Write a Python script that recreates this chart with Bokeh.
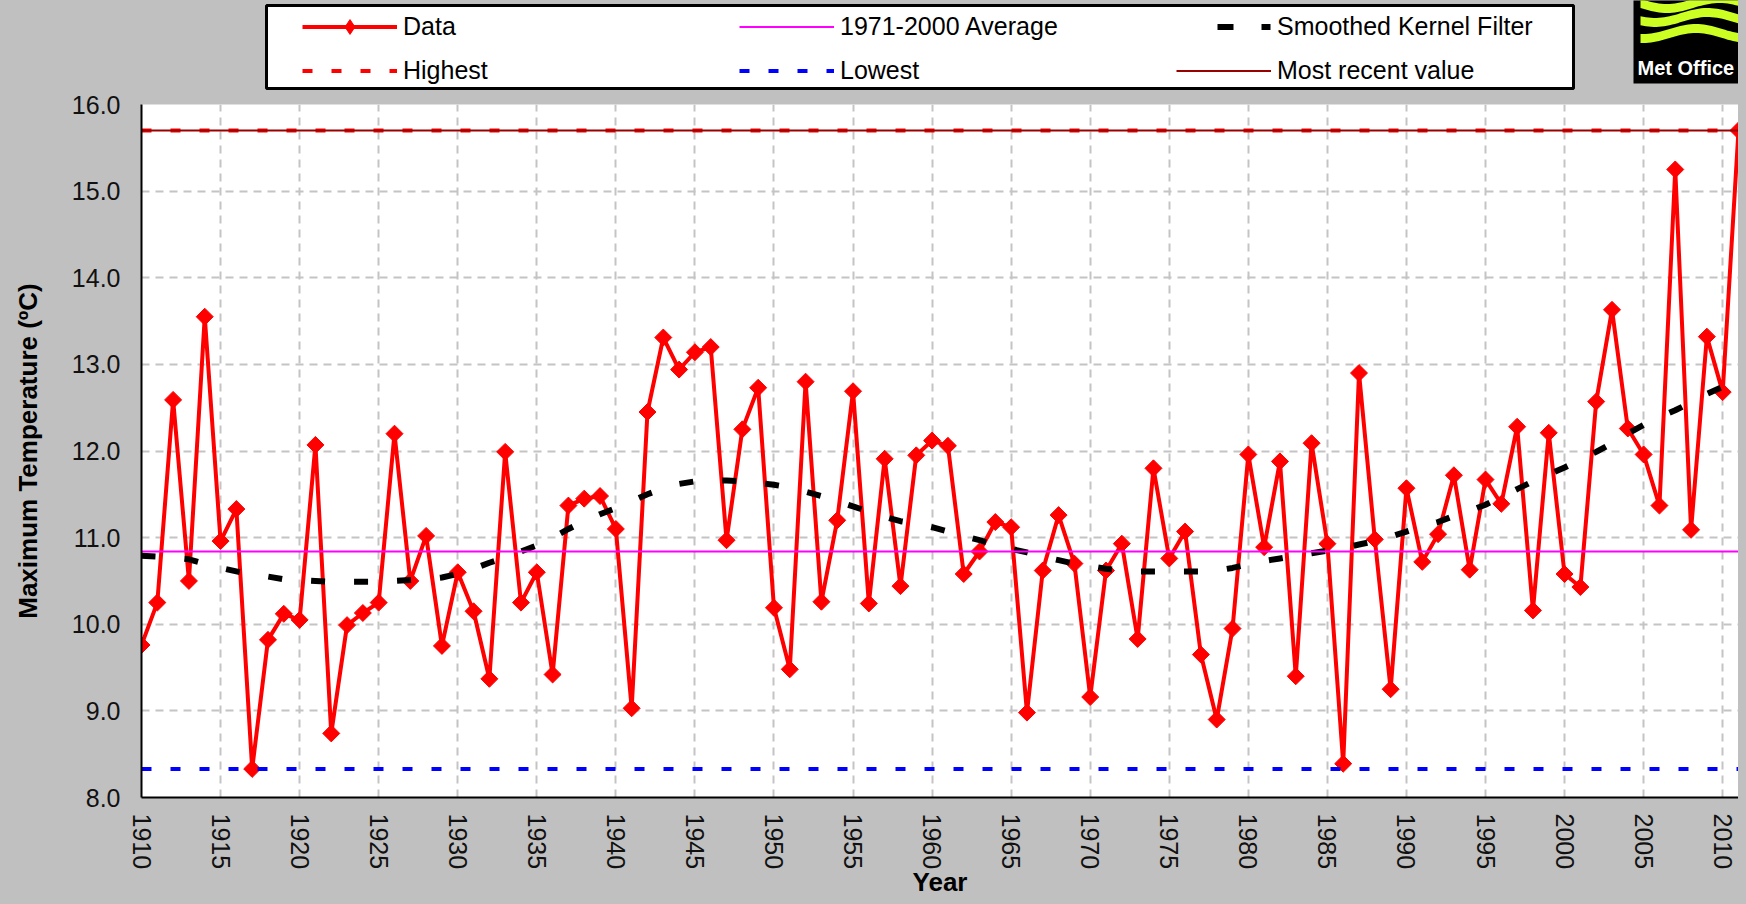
import math
import numpy as np
from bokeh.plotting import figure
from bokeh.layouts import column
from bokeh.models import (ColumnDataSource, Legend, LegendItem, FixedTicker, PrintfTickFormatter,
                          Range1d, GlobalInlineStyleSheet)
from bokeh.embed import file_html
from bokeh.resources import INLINE
from bokeh.core.properties import value

# ---------------- data ----------------
years = list(range(1910, 2012))

tmax = [
    9.76, 10.25, 12.59, 10.50, 13.55, 10.96, 11.33, 8.33, 9.82, 10.12,
    10.05, 12.07, 8.74, 9.99, 10.13, 10.25, 12.20, 10.50, 11.02, 9.75,
    10.60, 10.15, 9.37, 11.99, 10.25, 10.60, 9.42, 11.37, 11.45, 11.48,
    11.10, 9.03, 12.45, 13.31, 12.94, 13.14, 13.20, 10.97, 12.25, 12.73,
    10.19, 9.48, 12.80, 10.26, 11.20, 12.69, 10.24, 11.91, 10.44, 11.95,
    12.12, 12.06, 10.58, 10.84, 11.18, 11.12, 8.98, 10.62, 11.26, 10.70,
    9.16, 10.62, 10.93, 9.83, 11.80, 10.76, 11.07, 9.65, 8.90, 9.95,
    11.96, 10.89, 11.88, 9.40, 12.09, 10.93, 8.39, 12.90, 10.98, 9.25,
    11.57, 10.72, 11.04, 11.72, 10.63, 11.67, 11.39, 12.28, 10.16, 12.21,
    10.58, 10.43, 12.57, 13.63, 12.26, 11.96, 11.37, 15.25, 11.09, 13.32,
    12.68, 15.70,
]

smoothed = [
    10.79, 10.78, 10.77, 10.75, 10.70, 10.65, 10.61, 10.57, 10.55, 10.52,
    10.51, 10.50, 10.49, 10.49, 10.49, 10.49, 10.50, 10.51, 10.52, 10.54,
    10.58, 10.64, 10.71, 10.77, 10.84, 10.91, 11.00, 11.10, 11.19, 11.27,
    11.34, 11.42, 11.50, 11.57, 11.62, 11.65, 11.66, 11.66, 11.65, 11.63,
    11.61, 11.58, 11.53, 11.48, 11.42, 11.36, 11.30, 11.24, 11.19, 11.16,
    11.12, 11.07, 11.02, 10.97, 10.92, 10.87, 10.83, 10.78, 10.74, 10.70,
    10.67, 10.64, 10.62, 10.61, 10.61, 10.61, 10.61, 10.61, 10.62, 10.65,
    10.69, 10.73, 10.76, 10.79, 10.82, 10.85, 10.88, 10.92, 10.96, 11.01,
    11.07, 11.13, 11.18, 11.25, 11.31, 11.38, 11.47, 11.56, 11.65, 11.73,
    11.81, 11.90, 11.99, 12.09, 12.20, 12.30, 12.39, 12.47, 12.56, 12.66,
    12.74, 12.80,
]

avg_1971_2000 = 10.84
highest = max(tmax)
lowest = min(tmax)
most_recent = tmax[-1]

x_ticks = [1910, 1915, 1920, 1925, 1930, 1935, 1940, 1945, 1950, 1955, 1960,
           1965, 1970, 1975, 1980, 1985, 1990, 1995, 2000, 2005, 2010]
y_ticks = [8.0, 9.0, 10.0, 11.0, 12.0, 13.0, 14.0, 15.0, 16.0]

legend_labels = ["Data", "1971-2000 Average", "Smoothed Kernel Filter",
                 "Highest", "Lowest", "Most recent value"]

# ---------------- styling ----------------
FONT = "Liberation Sans"
GRAY = "#c0c0c0"
W = 1738
LEFT = 141
TOP_H = 90
MAIN_H = 810

STY = dict(
    data=dict(line_color="red", line_width=4),
    pts=dict(marker="square", angle=math.pi / 4, size=12, fill_color="red", line_color="red"),
    smooth=dict(line_color="black", line_width=6, line_dash="14 29"),
    avg=dict(line_color="#ff00ff", line_width=2),
    high=dict(line_color="red", line_width=4, line_dash="10 19"),
    low=dict(line_color="blue", line_width=4, line_dash="10 19"),
    recent=dict(line_color="#990000", line_width=2),
)

# ---------------- main chart ----------------
p = figure(width=W, height=MAIN_H, output_backend="svg", toolbar_location=None,
           x_range=(years[0], years[-1]), y_range=(y_ticks[0], y_ticks[-1]),
           min_border_left=LEFT, min_border_right=0, min_border_top=14, min_border_bottom=103,
           background_fill_color="white", border_fill_color=GRAY, outline_line_color=None)

p.stylesheets = [GlobalInlineStyleSheet(css="body { background-color: #c0c0c0; }")]

p.xaxis.ticker = FixedTicker(ticks=x_ticks)
p.yaxis.ticker = FixedTicker(ticks=y_ticks)
p.yaxis.formatter = PrintfTickFormatter(format="%.1f")
p.xaxis.major_label_orientation = -math.pi / 2

for ax in (p.xaxis[0], p.yaxis[0]):
    ax.axis_line_color = "black"
    ax.axis_line_width = 2
    ax.major_tick_line_color = None
    ax.minor_tick_line_color = None
    ax.major_tick_out = 0
    ax.major_tick_in = 0
    ax.minor_tick_out = 0
    ax.minor_tick_in = 0
    ax.major_label_text_font = FONT
    ax.major_label_text_font_size = "25px"
    ax.major_label_text_color = "#111111"
    ax.axis_label_text_font = FONT
    ax.axis_label_text_font_size = "26px"
    ax.axis_label_text_font_style = "bold"
    ax.axis_label_text_color = "black"

p.yaxis.major_label_standoff = 21
p.xaxis.major_label_standoff = 16
p.xaxis.axis_label = "Year"
p.xaxis.axis_label_standoff = -5
p.yaxis.axis_label = "Maximum Temperature (ºC)"
p.yaxis.axis_label_standoff = 26

p.grid.grid_line_color = "#c4c4c4"
p.grid.grid_line_width = 2
p.grid.grid_line_dash = "8 6"

src = ColumnDataSource(dict(year=years, tmax=tmax, smooth=smoothed))
ends = [years[0], years[-1]]

p.line("year", "tmax", source=src, **STY["data"])
p.scatter("year", "tmax", source=src, **STY["pts"])
p.line("year", "smooth", source=src, **STY["smooth"])
p.line(ends, [avg_1971_2000, avg_1971_2000], **STY["avg"])
p.line(ends, [highest, highest], **STY["high"])
p.line(ends, [lowest, lowest], **STY["low"])
p.line(ends, [most_recent, most_recent], **STY["recent"])

# ---------------- header strip: legend + logo ----------------
# its frame is aligned with the chart frame (LEFT .. W), so one data unit = one pixel
top = figure(width=W, height=TOP_H, output_backend="svg", toolbar_location=None,
             x_range=Range1d(LEFT, W), y_range=Range1d(TOP_H, 0),
             x_axis_location=None, y_axis_location=None,
             min_border_left=LEFT, min_border_right=0, min_border_top=0, min_border_bottom=0,
             background_fill_color=GRAY, border_fill_color=GRAY, outline_line_color=None)
top.grid.visible = False

# legend frame
top.quad(left=[266], right=[1573], top=[5], bottom=[88], fill_color="white",
         line_color="black", line_width=3)

# legend sample renderers: they hold no drawable point, they only supply the legend glyphs
nan = dict(x=[float("nan")], y=[float("nan")])
k_data = top.line(**nan, **STY["data"])
k_pts = top.scatter(**nan, marker="diamond", size=15, fill_color="red", line_color="red")
k_avg = top.line(**nan, **STY["avg"])
k_smooth = top.line(**nan, **dict(STY["smooth"], line_dash="0 41 16 28 9 100"))
k_high = top.line(**nan, **STY["high"])
k_low = top.line(**nan, **STY["low"])
k_recent = top.line(**nan, **STY["recent"])

legend = Legend(
    items=[
        LegendItem(label=legend_labels[0], renderers=[k_data, k_pts]),
        LegendItem(label=legend_labels[1], renderers=[k_avg]),
        LegendItem(label=legend_labels[2], renderers=[k_smooth]),
        LegendItem(label=legend_labels[3], renderers=[k_high]),
        LegendItem(label=legend_labels[4], renderers=[k_low]),
        LegendItem(label=legend_labels[5], renderers=[k_recent]),
    ],
    orientation="horizontal", ncols=3, location=(302 - LEFT, 1),
    padding=0, margin=0, border_line_alpha=0, background_fill_alpha=0,
    glyph_width=95, glyph_height=37, label_standoff=6, label_width=329, label_height=28,
    spacing=7, label_text_font=FONT, label_text_font_size="25px", label_text_color="black",
)
top.add_layout(legend)

# Met Office logo
top.quad(left=[1633], right=[W + 10], top=[-5], bottom=[83], fill_color="black", line_color=None)
wx = np.linspace(1640, W + 5, 40)
wave_xs, wave_ys = [], []
for cy, ph in ((3, 0.0), (17, 0.7), (33, 1.4)):
    t_edge = cy - 4.5 + 5 * np.sin((wx - 1640) / 105 * 2 * np.pi + ph)
    wave_xs.append(list(wx) + list(wx[::-1]))
    wave_ys.append(list(t_edge) + list((t_edge + 9)[::-1]))
top.patches(wave_xs, wave_ys, fill_color="#ccff22", line_color=None)
top.text(x=[1637], y=[67], text=["Met Office"], text_color="white", text_font=value(FONT),
         text_font_style="bold", text_font_size="20px", text_baseline="alphabetic")

layout = column(top, p, spacing=0)
open("out.html", "w").write(file_html(layout, INLINE))
